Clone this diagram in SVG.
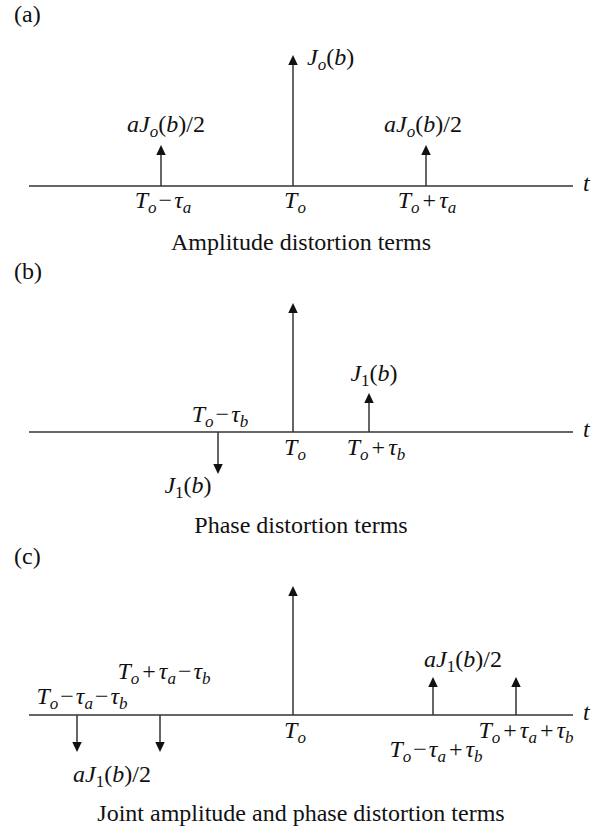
<svg xmlns="http://www.w3.org/2000/svg" width="597" height="829" viewBox="0 0 597 829">
<style>
text{font-family:"Liberation Serif","Times New Roman",serif;font-size:24px;fill:#111}
.m{font-style:italic}
.u{font-style:normal}
.s{font-size:17px}
.c{text-anchor:middle}
.ax{stroke:#333;stroke-width:1.5;fill:none}
.imp{stroke:#333;stroke-width:1.5;fill:none;marker-end:url(#ah)}
</style>
<defs>
<marker id="ah" markerUnits="userSpaceOnUse" markerWidth="10" markerHeight="10" refX="5" refY="4.75" orient="auto" viewBox="0 0 10 9.5">
<path d="M0,0 L10,4.75 L0,9.5 z" fill="#111"/>
</marker>
</defs>

<!-- Panel (a) -->
<g id="panel-a">
<text x="14" y="22">(a)</text>
<g id="connectors-a">
<line class="ax" x1="29" y1="186" x2="573" y2="186"/>
</g>
<text class="m" x="583" y="191">t</text>
<g id="a-center">
<line class="imp" x1="293" y1="186" x2="293" y2="60"/>
<text class="m" x="307" y="65">J<tspan class="s" dy="5">o</tspan><tspan class="u" dy="-5">(</tspan>b<tspan class="u">)</tspan></text>
<text class="m c" x="295" y="208">T<tspan class="s" dy="5">o</tspan></text>
</g>
<g id="a-left">
<line class="imp" x1="161" y1="186" x2="161" y2="150"/>
<text class="m c" x="166" y="132">aJ<tspan class="s" dy="5">o</tspan><tspan class="u" dy="-5">(</tspan>b<tspan class="u">)/2</tspan></text>
<text class="m c" x="163" y="208">T<tspan class="s" dy="5">o</tspan><tspan class="u" dy="-5" dx="2">−</tspan><tspan dx="2">τ</tspan><tspan class="s" dy="5">a</tspan></text>
</g>
<g id="a-right">
<line class="imp" x1="426" y1="186" x2="426" y2="150"/>
<text class="m c" x="423" y="132">aJ<tspan class="s" dy="5">o</tspan><tspan class="u" dy="-5">(</tspan>b<tspan class="u">)/2</tspan></text>
<text class="m c" x="427" y="208">T<tspan class="s" dy="5">o</tspan><tspan class="u" dy="-5" dx="3">+</tspan><tspan dx="3">τ</tspan><tspan class="s" dy="5">a</tspan></text>
</g>
<text class="c" x="301" y="250">Amplitude distortion terms</text>
</g>

<!-- Panel (b) -->
<g id="panel-b">
<text x="14" y="279">(b)</text>
<g id="connectors-b">
<line class="ax" x1="29" y1="432" x2="573" y2="432"/>
</g>
<text class="m" x="583" y="437">t</text>
<g id="b-center">
<line class="imp" x1="293" y1="432" x2="293" y2="308"/>
<text class="m c" x="295" y="455">T<tspan class="s" dy="5">o</tspan></text>
</g>
<g id="b-left">
<line class="imp" x1="218" y1="432" x2="218" y2="469"/>
<text class="m c" x="220" y="422">T<tspan class="s" dy="5">o</tspan><tspan class="u" dy="-5" dx="2">−</tspan><tspan dx="2">τ</tspan><tspan class="s" dy="5">b</tspan></text>
<text class="m c" x="188" y="493">J<tspan class="s u" dy="5">1</tspan><tspan class="u" dy="-5">(</tspan>b<tspan class="u">)</tspan></text>
</g>
<g id="b-right">
<line class="imp" x1="369" y1="432" x2="369" y2="398"/>
<text class="m c" x="374" y="381">J<tspan class="s u" dy="5">1</tspan><tspan class="u" dy="-5">(</tspan>b<tspan class="u">)</tspan></text>
<text class="m c" x="376" y="455">T<tspan class="s" dy="5">o</tspan><tspan class="u" dy="-5" dx="3">+</tspan><tspan dx="3">τ</tspan><tspan class="s" dy="5">b</tspan></text>
</g>
<text class="c" x="301" y="533">Phase distortion terms</text>
</g>

<!-- Panel (c) -->
<g id="panel-c">
<text x="14" y="564">(c)</text>
<g id="connectors-c">
<line class="ax" x1="29" y1="715" x2="573" y2="715"/>
</g>
<text class="m" x="583" y="720">t</text>
<g id="c-center">
<line class="imp" x1="293" y1="715" x2="293" y2="591"/>
<text class="m c" x="295" y="738">T<tspan class="s" dy="5">o</tspan></text>
</g>
<g id="c-left1">
<line class="imp" x1="77" y1="715" x2="77" y2="747"/>
<text class="m c" x="82" y="704">T<tspan class="s" dy="5">o</tspan><tspan class="u" dy="-5" dx="2">−</tspan><tspan dx="2">τ</tspan><tspan class="s" dy="5">a</tspan><tspan class="u" dy="-5" dx="2">−</tspan><tspan dx="2">τ</tspan><tspan class="s" dy="5">b</tspan></text>
</g>
<g id="c-left2">
<line class="imp" x1="160" y1="715" x2="160" y2="747"/>
<text class="m c" x="164" y="679">T<tspan class="s" dy="5">o</tspan><tspan class="u" dy="-5" dx="3">+</tspan><tspan dx="3">τ</tspan><tspan class="s" dy="5">a</tspan><tspan class="u" dy="-5" dx="2">−</tspan><tspan dx="2">τ</tspan><tspan class="s" dy="5">b</tspan></text>
</g>
<text class="m c" x="112" y="782">aJ<tspan class="s u" dy="5">1</tspan><tspan class="u" dy="-5">(</tspan>b<tspan class="u">)/2</tspan></text>
<g id="c-right1">
<line class="imp" x1="433" y1="715" x2="433" y2="682"/>
<text class="m c" x="436" y="757">T<tspan class="s" dy="5">o</tspan><tspan class="u" dy="-5" dx="2">−</tspan><tspan dx="2">τ</tspan><tspan class="s" dy="5">a</tspan><tspan class="u" dy="-5" dx="3">+</tspan><tspan dx="3">τ</tspan><tspan class="s" dy="5">b</tspan></text>
</g>
<g id="c-right2">
<line class="imp" x1="516" y1="715" x2="516" y2="682"/>
<text class="m c" x="526" y="738">T<tspan class="s" dy="5">o</tspan><tspan class="u" dy="-5" dx="3">+</tspan><tspan dx="3">τ</tspan><tspan class="s" dy="5">a</tspan><tspan class="u" dy="-5" dx="3">+</tspan><tspan dx="3">τ</tspan><tspan class="s" dy="5">b</tspan></text>
</g>
<text class="m c" x="463" y="667">aJ<tspan class="s u" dy="5">1</tspan><tspan class="u" dy="-5">(</tspan>b<tspan class="u">)/2</tspan></text>
<text class="c" x="301" y="821">Joint amplitude and phase distortion terms</text>
</g>
</svg>
